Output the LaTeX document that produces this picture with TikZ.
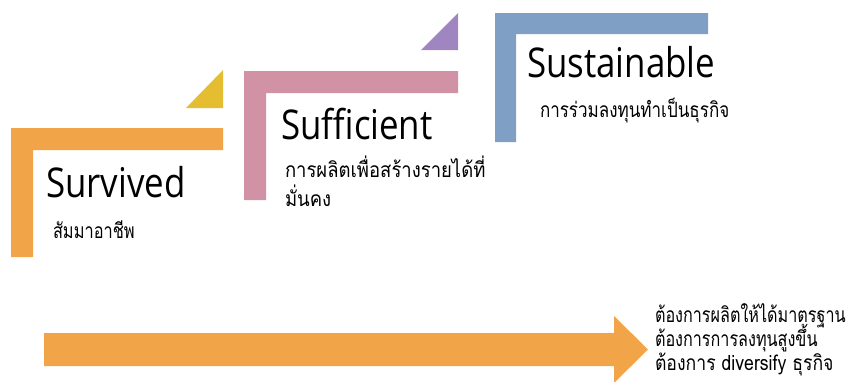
\documentclass[tikz,border=0pt]{standalone}
\usepackage{fontspec}
\usepackage{graphicx}
\newfontfamily\thaifont[Script=Thai]{Loma}
\newfontfamily\headfont{Open Sans}
\definecolor{cOrange}{RGB}{242,165,72}
\definecolor{cYellow}{RGB}{228,190,48}
\definecolor{cPink}{RGB}{209,146,166}
\definecolor{cPurple}{RGB}{159,134,192}
\definecolor{cBlue}{RGB}{127,159,196}
\newcommand\headtxt[1]{\scalebox{0.85}[1]{\headfont\fontsize{41}{44}\selectfont #1}}
\newcommand\thaitxt[2]{\scalebox{#1}[1]{#2}}
\tikzset{
  headnode/.style={anchor=base west, inner sep=0pt, outer sep=0pt},
  thainode/.style={anchor=base west, inner sep=0pt, outer sep=0pt, font=\thaifont\fontsize{21}{24}\selectfont},
}
\begin{document}
\begin{tikzpicture}[x=1pt,y=-1pt]
\useasboundingbox (0,0) rectangle (859,381);
\clip (0,0) rectangle (859,381);
% L shapes
\fill[cOrange] (11,128) -- (223,128) -- (223,150) -- (33,150) -- (33,257) -- (11,257) -- cycle;
\fill[cYellow] (186,108) -- (223,70) -- (223,108) -- cycle;
\fill[cPink] (244,71) -- (458,71) -- (458,93) -- (266,93) -- (266,200) -- (244,200) -- cycle;
\fill[cPurple] (421,50) -- (458,13) -- (458,50) -- cycle;
\fill[cBlue] (495,13) -- (708,13) -- (708,34) -- (516,34) -- (516,142) -- (495,142) -- cycle;
% arrow
\fill[cOrange] (44,333) -- (614,333) -- (614,316) -- (648,349.5) -- (614,383) -- (614,366) -- (44,366) -- cycle;
% headings
\node[headnode] (survived) at (46,197) {\headtxt{Survived}};
\node[headnode] (sufficient) at (281,139) {\headtxt{Sufficient}};
\node[headnode] (sustainable) at (527,77) {\headtxt{Sustainable}};
% thai texts
\node[thainode] (t1) at (53,238) {\thaitxt{0.78}{สัมมาอาชีพ}};
\node[thainode] (t2a) at (285,177) {\thaitxt{0.88}{การผลิตเพื่อสร้างรายได้ที่}};
\node[thainode] (t2b) at (285,206) {\thaitxt{0.88}{มั่นคง}};
\node[thainode] (t3) at (540,117) {\thaitxt{0.81}{การร่วมลงทุนทำเป็นธุรกิจ}};
\node[thainode] (r1) at (655,322) {\thaitxt{0.77}{ต้องการผลิตให้ได้มาตรฐาน}};
\node[thainode] (r2) at (655,346) {\thaitxt{0.77}{ต้องการการลงทุนสูงขึ้น}};
\node[thainode] (r3) at (655,370) {\thaitxt{0.84}{ต้องการ diversify ธุรกิจ}};
\end{tikzpicture}
\end{document}
